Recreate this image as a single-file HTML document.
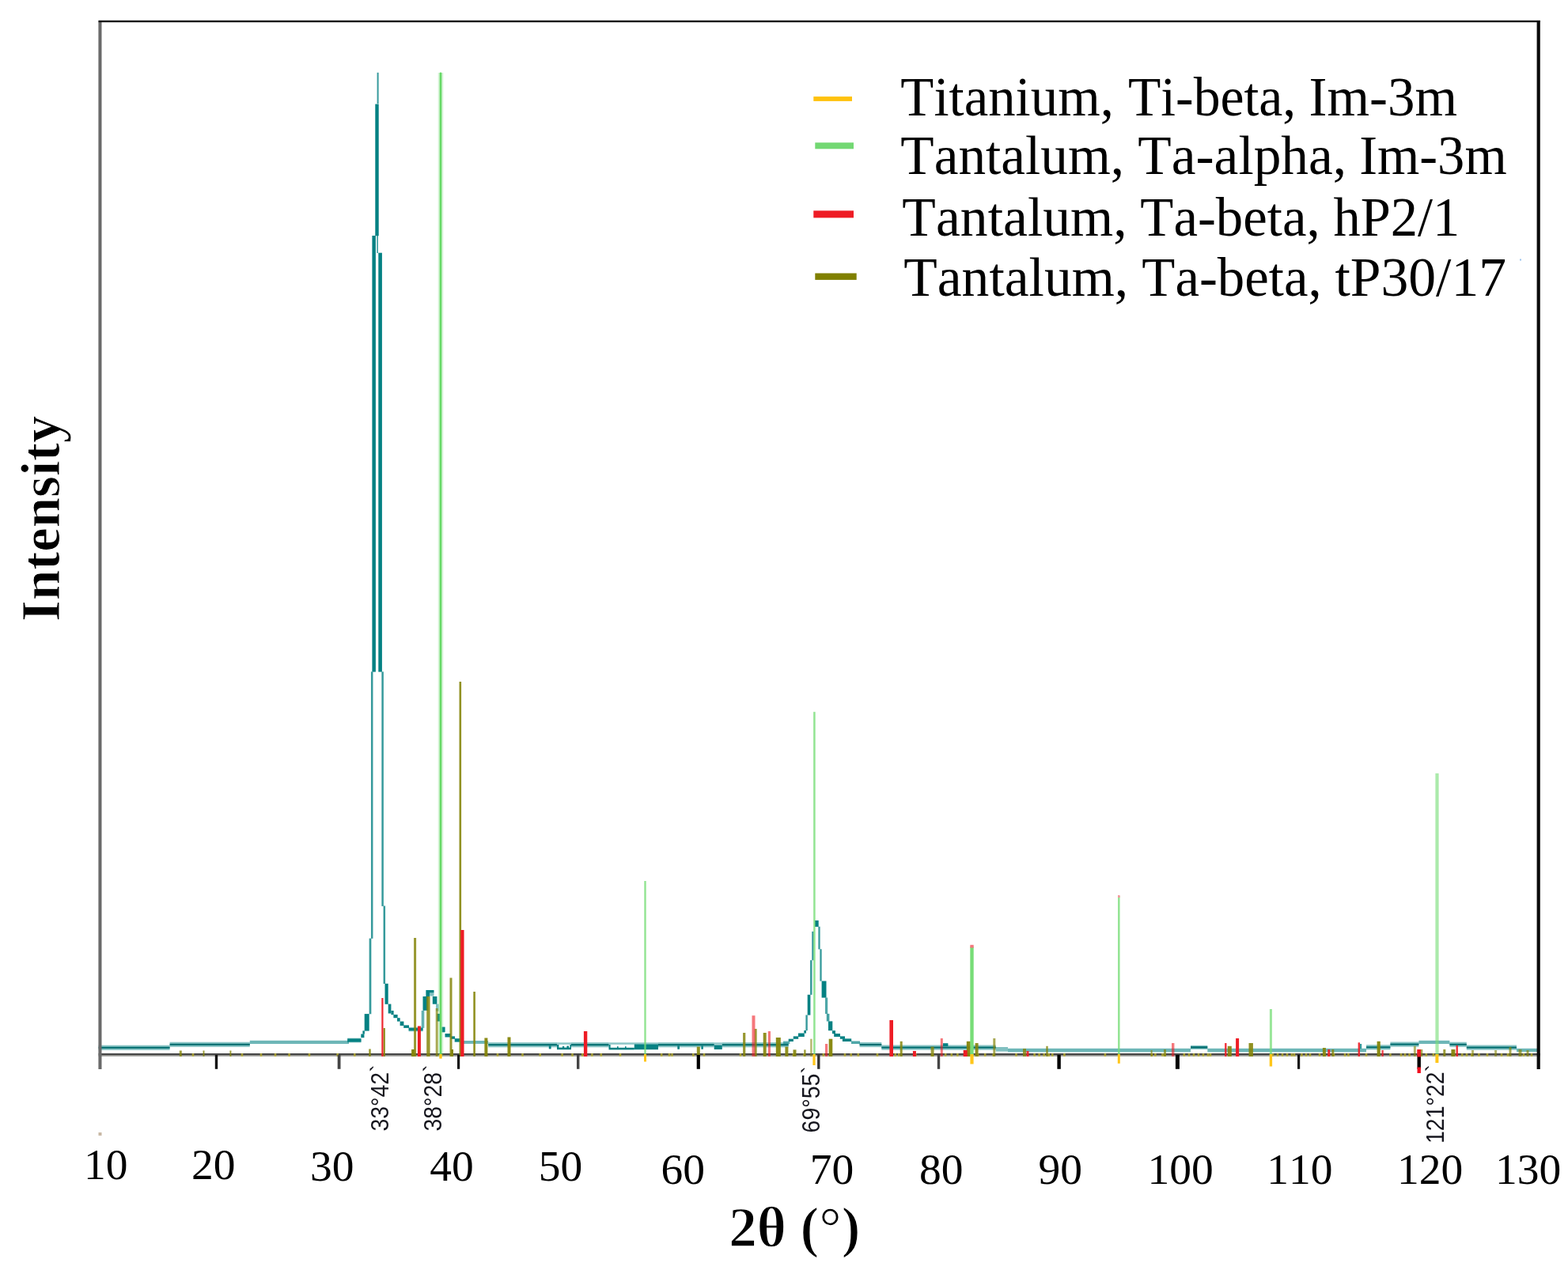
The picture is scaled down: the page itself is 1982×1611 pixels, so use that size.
<!DOCTYPE html>
<html lang="en">
<head>
<meta charset="utf-8">
<title>XRD pattern</title>
<style>
html,body{margin:0;padding:0;background:#fff;}
body{width:1982px;height:1611px;}
svg{display:block;}
</style>
</head>
<body>
<svg width="1982" height="1611" viewBox="0 0 1982 1611">
<rect x="0" y="0" width="1982" height="1611" fill="#ffffff"/>
<g id="curve">
<rect x="124.6" y="1321.70" width="90.0" height="6.20" fill="#048183" fill-opacity="0.47"/>
<rect x="124.6" y="1323.75" width="90.0" height="2.10" fill="#006d6f"/>
<rect x="214.6" y="1317.70" width="101.2" height="6.20" fill="#048183" fill-opacity="0.47"/>
<rect x="214.6" y="1319.75" width="101.2" height="2.10" fill="#006d6f"/>
<rect x="315.8" y="1315.8" width="125.2" height="4.2" fill="#048183" fill-opacity="0.58"/>
<rect x="439.2" y="1313.4" width="17.3" height="4.2" fill="#048183"/>
<rect x="439.2" y="1312.6" width="17.3" height="5.8" fill="#048183" fill-opacity="0.4"/>
<rect x="456.3" y="1307.5" width="4.1" height="4.7" fill="#048183"/>
<rect x="458.4" y="1303.4" width="2.5" height="4.2" fill="#048183"/>
<rect x="460.7" y="1282.1" width="6.0" height="21.5" fill="#048183"/>
<rect x="466.65" y="1186.6" width="2.70" height="95.7" fill="#048183" fill-opacity="0.8"/>
<rect x="468.95" y="849.4" width="2.50" height="337.4" fill="#048183" fill-opacity="0.8"/>
<rect x="470.4" y="298.0" width="4.5" height="551.6" fill="#048183"/>
<rect x="474.3" y="131.6" width="4.4" height="166.6" fill="#048183"/>
<rect x="476.60" y="91.8" width="2.00" height="39.4" fill="#048183" fill-opacity="0.8"/>
<rect x="476.30" y="297.0" width="1.60" height="23.0" fill="#048183" fill-opacity="0.8"/>
<rect x="478.3" y="319.7" width="4.6" height="529.9" fill="#048183"/>
<rect x="482.35" y="849.4" width="2.50" height="296.5" fill="#048183" fill-opacity="0.8"/>
<rect x="484.55" y="1145.5" width="2.50" height="98.5" fill="#048183" fill-opacity="0.8"/>
<rect x="486.5" y="1243.8" width="4.2" height="26.0" fill="#048183"/>
<rect x="490.7" y="1269.6" width="3.7" height="11.9" fill="#048183"/>
<rect x="494.4" y="1278.0" width="3.2" height="5.2" fill="#048183"/>
<rect x="497.4" y="1283.0" width="5.2" height="4.2" fill="#048183"/>
<rect x="502.0" y="1287.2" width="3.7" height="4.4" fill="#048183"/>
<rect x="505.6" y="1291.6" width="4.8" height="5.4" fill="#048183"/>
<rect x="510.2" y="1296.4" width="6.8" height="3.5" fill="#048183"/>
<rect x="516.6" y="1299.8" width="18.0" height="3.6" fill="#048183"/>
<rect x="516.6" y="1298.8" width="18.0" height="5.6" fill="#048183" fill-opacity="0.35"/>
<rect x="532.70" y="1278.0" width="3.60" height="21.9" fill="#048183" fill-opacity="0.62"/>
<rect x="534.5" y="1260.0" width="6.7" height="17.8" fill="#048183"/>
<rect x="538.4" y="1252.0" width="10.1" height="3.2" fill="#048183"/>
<rect x="538.4" y="1255.0" width="4.6" height="5.2" fill="#048183"/>
<rect x="543.0" y="1255.0" width="5.5" height="4.6" fill="#048183" fill-opacity="0.5"/>
<rect x="546.8" y="1260.0" width="5.6" height="9.7" fill="#048183"/>
<rect x="551.0" y="1269.6" width="3.6" height="9.0" fill="#048183" fill-opacity="0.5"/>
<rect x="552.4" y="1281.9" width="3.9" height="9.6" fill="#048183"/>
<rect x="558.5" y="1298.6" width="4.1" height="6.7" fill="#048183"/>
<rect x="562.5" y="1307.0" width="7.3" height="4.5" fill="#048183"/>
<rect x="569.6" y="1310.4" width="5.4" height="3.4" fill="#048183"/>
<rect x="574.7" y="1313.2" width="7.5" height="4.4" fill="#048183"/>
<rect x="582.0" y="1316.0" width="35.2" height="3.9" fill="#048183" fill-opacity="0.58"/>
<rect x="617.2" y="1318.10" width="86.8" height="6.20" fill="#048183" fill-opacity="0.47"/>
<rect x="617.2" y="1320.15" width="86.8" height="2.10" fill="#006d6f"/>
<rect x="722.0" y="1318.10" width="47.5" height="6.20" fill="#048183" fill-opacity="0.47"/>
<rect x="722.0" y="1320.15" width="47.5" height="2.10" fill="#006d6f"/>
<rect x="832.0" y="1318.10" width="70.7" height="6.20" fill="#048183" fill-opacity="0.47"/>
<rect x="832.0" y="1320.15" width="70.7" height="2.10" fill="#006d6f"/>
<rect x="912.8" y="1318.10" width="83.9" height="6.20" fill="#048183" fill-opacity="0.47"/>
<rect x="912.8" y="1320.15" width="83.9" height="2.10" fill="#006d6f"/>
<rect x="693.8" y="1322.4" width="2.8" height="4.0" fill="#048183"/>
<rect x="704.0" y="1318.3" width="18.0" height="2.5" fill="#048183" fill-opacity="0.45"/>
<rect x="704.0" y="1324.6" width="18.0" height="2.6" fill="#048183"/>
<rect x="704.0" y="1321.0" width="2.4" height="4.0" fill="#048183"/>
<rect x="711.0" y="1323.0" width="2.2" height="2.0" fill="#048183"/>
<rect x="716.4" y="1322.6" width="2.6" height="2.4" fill="#048183"/>
<rect x="720.4" y="1321.0" width="1.6" height="4.0" fill="#048183"/>
<rect x="769.5" y="1318.3" width="32.3" height="2.5" fill="#048183" fill-opacity="0.45"/>
<rect x="769.5" y="1324.8" width="32.3" height="2.6" fill="#048183"/>
<rect x="769.5" y="1321.0" width="2.1" height="4.0" fill="#048183"/>
<rect x="780.0" y="1323.2" width="1.6" height="1.8" fill="#048183"/>
<rect x="790.0" y="1323.2" width="1.6" height="1.8" fill="#048183"/>
<rect x="801.8" y="1318.3" width="30.2" height="2.3" fill="#048183" fill-opacity="0.45"/>
<rect x="801.8" y="1320.4" width="30.2" height="6.8" fill="#048183"/>
<rect x="856.3" y="1322.4" width="2.7" height="4.4" fill="#048183"/>
<rect x="886.4" y="1322.4" width="2.4" height="4.4" fill="#048183"/>
<rect x="902.7" y="1318.3" width="10.1" height="2.5" fill="#048183" fill-opacity="0.45"/>
<rect x="902.7" y="1321.4" width="10.1" height="5.6" fill="#048183"/>
<rect x="990.0" y="1316.5" width="8.4" height="3.5" fill="#048183" fill-opacity="0.6"/>
<rect x="996.7" y="1313.7" width="6.2" height="3.3" fill="#048183"/>
<rect x="1002.8" y="1310.4" width="6.4" height="3.4" fill="#048183"/>
<rect x="1009.0" y="1306.5" width="7.8" height="4.5" fill="#048183"/>
<rect x="1016.3" y="1303.0" width="2.7" height="3.6" fill="#048183"/>
<rect x="1018.40" y="1283.5" width="2.40" height="19.7" fill="#048183" fill-opacity="0.8"/>
<rect x="1020.7" y="1257.8" width="3.7" height="25.8" fill="#048183"/>
<rect x="1024.05" y="1214.2" width="2.50" height="43.7" fill="#048183" fill-opacity="0.8"/>
<rect x="1026.25" y="1177.9" width="2.30" height="36.4" fill="#048183" fill-opacity="0.8"/>
<rect x="1029.9" y="1163.9" width="4.8" height="8.0" fill="#048183"/>
<rect x="1034.35" y="1171.7" width="2.30" height="28.7" fill="#048183" fill-opacity="0.8"/>
<rect x="1036.35" y="1200.2" width="2.30" height="40.4" fill="#048183" fill-opacity="0.8"/>
<rect x="1038.6" y="1240.5" width="5.9" height="21.1" fill="#048183"/>
<rect x="1043.00" y="1261.5" width="3.20" height="20.5" fill="#048183" fill-opacity="0.7"/>
<rect x="1044.80" y="1281.9" width="3.60" height="9.6" fill="#048183" fill-opacity="0.75"/>
<rect x="1047.0" y="1291.4" width="5.3" height="11.8" fill="#048183"/>
<rect x="1052.0" y="1303.2" width="4.0" height="4.0" fill="#048183"/>
<rect x="1054.2" y="1307.0" width="7.8" height="4.0" fill="#048183"/>
<rect x="1061.8" y="1310.4" width="6.2" height="3.4" fill="#048183"/>
<rect x="1064.9" y="1313.4" width="11.3" height="3.6" fill="#048183"/>
<rect x="1076.0" y="1316.5" width="11.0" height="3.5" fill="#048183" fill-opacity="0.7"/>
<rect x="1086.6" y="1317.90" width="27.7" height="6.20" fill="#048183" fill-opacity="0.47"/>
<rect x="1086.6" y="1319.95" width="27.7" height="2.10" fill="#006d6f"/>
<rect x="1114.3" y="1321.50" width="144.5" height="6.20" fill="#048183" fill-opacity="0.47"/>
<rect x="1114.3" y="1323.55" width="144.5" height="2.10" fill="#006d6f"/>
<rect x="1192.0" y="1319.2" width="6.4" height="3.8" fill="#048183"/>
<rect x="1258.8" y="1324.0" width="15.2" height="5.6" fill="#048183" fill-opacity="0.5"/>
<rect x="1274.0" y="1325.8" width="231.0" height="4.6" fill="#048183" fill-opacity="0.58"/>
<rect x="1505.0" y="1321.90" width="21.3" height="5.00" fill="#048183" fill-opacity="0.47"/>
<rect x="1505.0" y="1323.20" width="21.3" height="2.40" fill="#006d6f"/>
<rect x="1526.3" y="1325.8" width="200.7" height="4.6" fill="#048183" fill-opacity="0.58"/>
<rect x="1719.0" y="1320.0" width="2.2" height="6.0" fill="#048183" fill-opacity="0.8"/>
<rect x="1727.0" y="1321.20" width="30.4" height="6.20" fill="#048183" fill-opacity="0.47"/>
<rect x="1727.0" y="1323.25" width="30.4" height="2.10" fill="#006d6f"/>
<rect x="1757.4" y="1317.50" width="36.0" height="6.20" fill="#048183" fill-opacity="0.47"/>
<rect x="1757.4" y="1319.55" width="36.0" height="2.10" fill="#006d6f"/>
<rect x="1793.4" y="1315.8" width="39.0" height="4.2" fill="#048183" fill-opacity="0.58"/>
<rect x="1832.4" y="1317.70" width="21.4" height="6.20" fill="#048183" fill-opacity="0.47"/>
<rect x="1832.4" y="1319.75" width="21.4" height="2.10" fill="#006d6f"/>
<rect x="1853.8" y="1321.50" width="63.2" height="6.20" fill="#048183" fill-opacity="0.47"/>
<rect x="1853.8" y="1323.55" width="63.2" height="2.10" fill="#006d6f"/>
<rect x="1917.0" y="1325.8" width="28.0" height="4.2" fill="#048183" fill-opacity="0.58"/>
</g>
<rect x="124.6" y="1332.0" width="1822.2" height="2.2" fill="#454545"/>
<rect x="124.6" y="1334.1" width="1822.2" height="1.6" fill="#8a8a86"/>
<rect x="364.30" y="1332.00" width="2.60" height="4.00" fill="#b7ac2e" fill-opacity="0.8"/>
<rect x="389.70" y="1332.00" width="2.60" height="4.00" fill="#b7ac2e" fill-opacity="0.8"/>
<rect x="425.40" y="1332.00" width="2.60" height="4.00" fill="#b7ac2e" fill-opacity="0.8"/>
<rect x="447.00" y="1332.00" width="2.60" height="4.00" fill="#b7ac2e" fill-opacity="0.8"/>
<rect x="709.30" y="1332.00" width="2.60" height="4.00" fill="#b7ac2e" fill-opacity="0.8"/>
<rect x="722.20" y="1332.00" width="2.60" height="4.00" fill="#b7ac2e" fill-opacity="0.8"/>
<rect x="735.00" y="1332.00" width="2.60" height="4.00" fill="#b7ac2e" fill-opacity="0.8"/>
<rect x="747.10" y="1332.00" width="2.60" height="4.00" fill="#b7ac2e" fill-opacity="0.8"/>
<rect x="758.50" y="1332.00" width="2.60" height="4.00" fill="#b7ac2e" fill-opacity="0.8"/>
<rect x="782.70" y="1332.00" width="2.60" height="4.00" fill="#b7ac2e" fill-opacity="0.8"/>
<rect x="834.90" y="1332.00" width="2.60" height="4.00" fill="#b7ac2e" fill-opacity="0.8"/>
<rect x="844.70" y="1332.00" width="2.60" height="4.00" fill="#b7ac2e" fill-opacity="0.8"/>
<rect x="848.20" y="1332.00" width="2.60" height="4.00" fill="#b7ac2e" fill-opacity="0.8"/>
<rect x="875.00" y="1332.00" width="2.60" height="4.00" fill="#b7ac2e" fill-opacity="0.8"/>
<rect x="888.70" y="1332.00" width="2.60" height="4.00" fill="#b7ac2e" fill-opacity="0.8"/>
<rect x="934.70" y="1332.00" width="2.60" height="4.00" fill="#b7ac2e" fill-opacity="0.8"/>
<rect x="1001.70" y="1332.00" width="2.60" height="4.00" fill="#b7ac2e" fill-opacity="0.8"/>
<rect x="1015.30" y="1332.00" width="2.60" height="4.00" fill="#b7ac2e" fill-opacity="0.8"/>
<rect x="1039.60" y="1332.00" width="2.60" height="4.00" fill="#b7ac2e" fill-opacity="0.8"/>
<rect x="1048.70" y="1332.00" width="2.60" height="4.00" fill="#b7ac2e" fill-opacity="0.8"/>
<rect x="1066.70" y="1332.00" width="2.60" height="4.00" fill="#b7ac2e" fill-opacity="0.8"/>
<rect x="1074.40" y="1332.00" width="2.60" height="4.00" fill="#b7ac2e" fill-opacity="0.8"/>
<rect x="1083.50" y="1332.00" width="2.60" height="4.00" fill="#b7ac2e" fill-opacity="0.8"/>
<rect x="1107.70" y="1332.00" width="2.60" height="4.00" fill="#b7ac2e" fill-opacity="0.8"/>
<rect x="1130.40" y="1332.00" width="2.60" height="4.00" fill="#b7ac2e" fill-opacity="0.8"/>
<rect x="1134.90" y="1332.00" width="2.60" height="4.00" fill="#b7ac2e" fill-opacity="0.8"/>
<rect x="1156.10" y="1332.00" width="2.60" height="4.00" fill="#b7ac2e" fill-opacity="0.8"/>
<rect x="1177.30" y="1332.00" width="2.60" height="4.00" fill="#b7ac2e" fill-opacity="0.8"/>
<rect x="1193.90" y="1332.00" width="2.60" height="4.00" fill="#b7ac2e" fill-opacity="0.8"/>
<rect x="1201.50" y="1332.00" width="2.60" height="4.00" fill="#b7ac2e" fill-opacity="0.8"/>
<rect x="1209.10" y="1332.00" width="2.60" height="4.00" fill="#b7ac2e" fill-opacity="0.8"/>
<rect x="1234.80" y="1332.00" width="2.60" height="4.00" fill="#b7ac2e" fill-opacity="0.8"/>
<rect x="1243.90" y="1332.00" width="2.60" height="4.00" fill="#b7ac2e" fill-opacity="0.8"/>
<rect x="1254.50" y="1332.00" width="2.60" height="4.00" fill="#b7ac2e" fill-opacity="0.8"/>
<rect x="1283.20" y="1332.00" width="2.60" height="4.00" fill="#b7ac2e" fill-opacity="0.8"/>
<rect x="1306.30" y="1332.00" width="2.60" height="4.00" fill="#b7ac2e" fill-opacity="0.8"/>
<rect x="1312.30" y="1332.00" width="2.60" height="4.00" fill="#b7ac2e" fill-opacity="0.8"/>
<rect x="1318.40" y="1332.00" width="2.60" height="4.00" fill="#b7ac2e" fill-opacity="0.8"/>
<rect x="1324.40" y="1332.00" width="2.60" height="4.00" fill="#b7ac2e" fill-opacity="0.8"/>
<rect x="1329.00" y="1332.00" width="2.60" height="4.00" fill="#b7ac2e" fill-opacity="0.8"/>
<rect x="1344.10" y="1332.00" width="2.60" height="4.00" fill="#b7ac2e" fill-opacity="0.8"/>
<rect x="1395.60" y="1332.00" width="2.60" height="4.00" fill="#b7ac2e" fill-opacity="0.8"/>
<rect x="1454.60" y="1332.00" width="2.60" height="4.00" fill="#b7ac2e" fill-opacity="0.8"/>
<rect x="1459.10" y="1332.00" width="2.60" height="4.00" fill="#b7ac2e" fill-opacity="0.8"/>
<rect x="1468.20" y="1332.00" width="2.60" height="4.00" fill="#b7ac2e" fill-opacity="0.8"/>
<rect x="1471.20" y="1332.00" width="2.60" height="4.00" fill="#b7ac2e" fill-opacity="0.8"/>
<rect x="1495.50" y="1332.00" width="2.60" height="4.00" fill="#b7ac2e" fill-opacity="0.8"/>
<rect x="1501.70" y="1332.00" width="2.60" height="4.00" fill="#b7ac2e" fill-opacity="0.8"/>
<rect x="1507.70" y="1332.00" width="2.60" height="4.00" fill="#b7ac2e" fill-opacity="0.8"/>
<rect x="1513.70" y="1332.00" width="2.60" height="4.00" fill="#b7ac2e" fill-opacity="0.8"/>
<rect x="1519.70" y="1332.00" width="2.60" height="4.00" fill="#b7ac2e" fill-opacity="0.8"/>
<rect x="1525.70" y="1332.00" width="2.60" height="4.00" fill="#b7ac2e" fill-opacity="0.8"/>
<rect x="1528.70" y="1332.00" width="2.60" height="4.00" fill="#b7ac2e" fill-opacity="0.8"/>
<rect x="1607.70" y="1332.00" width="2.60" height="4.00" fill="#b7ac2e" fill-opacity="0.8"/>
<rect x="1613.70" y="1332.00" width="2.60" height="4.00" fill="#b7ac2e" fill-opacity="0.8"/>
<rect x="1619.70" y="1332.00" width="2.60" height="4.00" fill="#b7ac2e" fill-opacity="0.8"/>
<rect x="1625.70" y="1332.00" width="2.60" height="4.00" fill="#b7ac2e" fill-opacity="0.8"/>
<rect x="1631.70" y="1332.00" width="2.60" height="4.00" fill="#b7ac2e" fill-opacity="0.8"/>
<rect x="1634.70" y="1332.00" width="2.60" height="4.00" fill="#b7ac2e" fill-opacity="0.8"/>
<rect x="1644.10" y="1332.00" width="2.60" height="4.00" fill="#b7ac2e" fill-opacity="0.8"/>
<rect x="1649.70" y="1332.00" width="2.60" height="4.00" fill="#b7ac2e" fill-opacity="0.8"/>
<rect x="1654.70" y="1332.00" width="2.60" height="4.00" fill="#b7ac2e" fill-opacity="0.8"/>
<rect x="1666.70" y="1332.00" width="2.60" height="4.00" fill="#b7ac2e" fill-opacity="0.8"/>
<rect x="1672.70" y="1332.00" width="2.60" height="4.00" fill="#b7ac2e" fill-opacity="0.8"/>
<rect x="1678.70" y="1332.00" width="2.60" height="4.00" fill="#b7ac2e" fill-opacity="0.8"/>
<rect x="1684.70" y="1332.00" width="2.60" height="4.00" fill="#b7ac2e" fill-opacity="0.8"/>
<rect x="1698.70" y="1332.00" width="2.60" height="4.00" fill="#b7ac2e" fill-opacity="0.8"/>
<rect x="1703.10" y="1332.00" width="2.60" height="4.00" fill="#b7ac2e" fill-opacity="0.8"/>
<rect x="1725.70" y="1332.00" width="2.60" height="4.00" fill="#b7ac2e" fill-opacity="0.8"/>
<rect x="1756.10" y="1332.00" width="2.60" height="4.00" fill="#b7ac2e" fill-opacity="0.8"/>
<rect x="1769.70" y="1332.00" width="2.60" height="4.00" fill="#b7ac2e" fill-opacity="0.8"/>
<rect x="1774.70" y="1332.00" width="2.60" height="4.00" fill="#b7ac2e" fill-opacity="0.8"/>
<rect x="1780.30" y="1332.00" width="2.60" height="4.00" fill="#b7ac2e" fill-opacity="0.8"/>
<rect x="1801.50" y="1332.00" width="2.60" height="4.00" fill="#b7ac2e" fill-opacity="0.8"/>
<rect x="1810.60" y="1332.00" width="2.60" height="4.00" fill="#b7ac2e" fill-opacity="0.8"/>
<rect x="1846.90" y="1332.00" width="2.60" height="4.00" fill="#b7ac2e" fill-opacity="0.8"/>
<rect x="1852.70" y="1332.00" width="2.60" height="4.00" fill="#b7ac2e" fill-opacity="0.8"/>
<rect x="1859.00" y="1332.00" width="2.60" height="4.00" fill="#b7ac2e" fill-opacity="0.8"/>
<rect x="1868.10" y="1332.00" width="2.60" height="4.00" fill="#b7ac2e" fill-opacity="0.8"/>
<rect x="242.70" y="1332.00" width="2.60" height="4.00" fill="#b7ac2e" fill-opacity="0.8"/>
<rect x="304.70" y="1332.00" width="2.60" height="4.00" fill="#b7ac2e" fill-opacity="0.8"/>
<rect x="328.70" y="1332.00" width="2.60" height="4.00" fill="#b7ac2e" fill-opacity="0.8"/>
<rect x="346.70" y="1332.00" width="2.60" height="4.00" fill="#b7ac2e" fill-opacity="0.8"/>
<rect x="627.70" y="1332.00" width="2.60" height="4.00" fill="#b7ac2e" fill-opacity="0.8"/>
<rect x="659.20" y="1332.00" width="2.60" height="4.00" fill="#b7ac2e" fill-opacity="0.8"/>
<rect x="681.40" y="1332.00" width="2.60" height="4.00" fill="#b7ac2e" fill-opacity="0.8"/>
<rect x="1878.70" y="1332.00" width="2.60" height="4.00" fill="#b7ac2e" fill-opacity="0.8"/>
<rect x="1896.70" y="1332.00" width="2.60" height="4.00" fill="#b7ac2e" fill-opacity="0.8"/>
<rect x="1904.70" y="1332.00" width="2.60" height="4.00" fill="#b7ac2e" fill-opacity="0.8"/>
<rect x="1924.70" y="1332.00" width="2.60" height="4.00" fill="#b7ac2e" fill-opacity="0.8"/>
<rect x="1934.70" y="1332.00" width="2.60" height="4.00" fill="#b7ac2e" fill-opacity="0.8"/>
<g id="sticks">
<rect x="226.80" y="1328.50" width="3.00" height="7.50" fill="#85850a" fill-opacity="0.8"/>
<rect x="256.50" y="1328.50" width="2.00" height="7.50" fill="#85850a" fill-opacity="0.8"/>
<rect x="290.40" y="1328.50" width="2.00" height="7.50" fill="#85850a" fill-opacity="0.8"/>
<rect x="466.25" y="1326.50" width="2.50" height="9.50" fill="#85850a" fill-opacity="0.85"/>
<rect x="484.60" y="1300.00" width="2.20" height="36.00" fill="#85850a" fill-opacity="0.95"/>
<rect x="520.10" y="1327.00" width="4.00" height="9.00" fill="#85850a"/>
<rect x="523.10" y="1186.00" width="3.00" height="150.00" fill="#85850a" fill-opacity="0.85"/>
<rect x="539.20" y="1260.00" width="4.40" height="76.00" fill="#85850a" fill-opacity="0.85"/>
<rect x="550.70" y="1275.00" width="3.00" height="61.00" fill="#85850a" fill-opacity="0.7"/>
<rect x="568.50" y="1236.50" width="3.00" height="99.50" fill="#85850a" fill-opacity="0.85"/>
<rect x="570.00" y="1327.00" width="3.00" height="9.00" fill="#85850a"/>
<rect x="580.50" y="862.00" width="2.60" height="474.00" fill="#85850a" fill-opacity="0.9"/>
<rect x="598.30" y="1254.00" width="2.60" height="82.00" fill="#85850a" fill-opacity="0.9"/>
<rect x="612.40" y="1312.50" width="4.00" height="23.50" fill="#85850a" fill-opacity="0.95"/>
<rect x="641.50" y="1311.50" width="4.00" height="24.50" fill="#85850a" fill-opacity="0.95"/>
<rect x="880.80" y="1323.60" width="4.00" height="12.40" fill="#85850a" fill-opacity="0.9"/>
<rect x="939.10" y="1306.00" width="3.20" height="30.00" fill="#85850a" fill-opacity="0.85"/>
<rect x="953.70" y="1301.00" width="3.00" height="35.00" fill="#85850a" fill-opacity="0.8"/>
<rect x="964.70" y="1306.00" width="4.00" height="30.00" fill="#85850a" fill-opacity="0.9"/>
<rect x="980.80" y="1312.00" width="6.00" height="24.00" fill="#85850a" fill-opacity="0.95"/>
<rect x="992.40" y="1323.60" width="4.00" height="12.40" fill="#85850a" fill-opacity="0.9"/>
<rect x="1002.50" y="1327.40" width="4.00" height="8.60" fill="#85850a" fill-opacity="0.9"/>
<rect x="1016.20" y="1327.40" width="2.40" height="8.60" fill="#85850a" fill-opacity="0.8"/>
<rect x="1024.20" y="1313.70" width="2.40" height="22.30" fill="#85850a" fill-opacity="0.6"/>
<rect x="1047.70" y="1313.70" width="4.60" height="22.30" fill="#85850a" fill-opacity="0.95"/>
<rect x="1137.70" y="1316.80" width="3.00" height="19.20" fill="#85850a" fill-opacity="0.85"/>
<rect x="1176.60" y="1323.60" width="4.00" height="12.40" fill="#85850a" fill-opacity="0.8"/>
<rect x="1221.80" y="1316.80" width="5.00" height="19.20" fill="#85850a" fill-opacity="0.95"/>
<rect x="1232.60" y="1319.00" width="4.00" height="17.00" fill="#85850a" fill-opacity="0.9"/>
<rect x="1255.30" y="1313.00" width="3.00" height="23.00" fill="#85850a" fill-opacity="0.7"/>
<rect x="1293.00" y="1326.00" width="4.00" height="10.00" fill="#85850a" fill-opacity="0.8"/>
<rect x="1322.30" y="1322.80" width="2.40" height="13.20" fill="#85850a" fill-opacity="0.8"/>
<rect x="1454.60" y="1328.00" width="2.00" height="8.00" fill="#85850a" fill-opacity="0.7"/>
<rect x="1471.00" y="1327.00" width="3.00" height="9.00" fill="#85850a" fill-opacity="0.7"/>
<rect x="1551.80" y="1322.80" width="5.00" height="13.20" fill="#85850a" fill-opacity="0.9"/>
<rect x="1578.50" y="1319.00" width="5.40" height="17.00" fill="#85850a" fill-opacity="0.9"/>
<rect x="1671.90" y="1325.00" width="4.00" height="11.00" fill="#85850a" fill-opacity="0.9"/>
<rect x="1683.30" y="1327.00" width="3.00" height="9.00" fill="#85850a" fill-opacity="0.8"/>
<rect x="1740.60" y="1316.80" width="4.20" height="19.20" fill="#85850a" fill-opacity="0.95"/>
<rect x="1786.90" y="1322.80" width="3.00" height="13.20" fill="#85850a" fill-opacity="0.6"/>
<rect x="1795.30" y="1327.00" width="3.00" height="9.00" fill="#85850a" fill-opacity="0.7"/>
<rect x="1824.30" y="1327.00" width="3.00" height="9.00" fill="#85850a" fill-opacity="0.8"/>
<rect x="1834.40" y="1327.00" width="5.00" height="9.00" fill="#85850a" fill-opacity="0.95"/>
<rect x="1860.00" y="1328.00" width="3.00" height="8.00" fill="#85850a" fill-opacity="0.6"/>
<rect x="1889.10" y="1328.00" width="3.00" height="8.00" fill="#85850a" fill-opacity="0.6"/>
<rect x="1907.50" y="1324.00" width="3.00" height="12.00" fill="#85850a" fill-opacity="0.7"/>
<rect x="1919.50" y="1327.00" width="4.00" height="9.00" fill="#85850a" fill-opacity="0.7"/>
<rect x="1929.50" y="1328.00" width="3.00" height="8.00" fill="#85850a" fill-opacity="0.7"/>
<rect x="482.30" y="1262.00" width="2.20" height="74.00" fill="#ee1c25" fill-opacity="0.95"/>
<rect x="527.90" y="1297.50" width="4.00" height="38.50" fill="#ee1c25"/>
<rect x="582.25" y="1176.00" width="4.30" height="160.00" fill="#ee1c25"/>
<rect x="737.90" y="1304.00" width="4.40" height="32.00" fill="#ee1c25"/>
<rect x="950.50" y="1284.20" width="4.00" height="51.80" fill="#ee1c25" fill-opacity="0.6"/>
<rect x="970.80" y="1304.00" width="3.20" height="32.00" fill="#ee1c25" fill-opacity="0.6"/>
<rect x="1043.00" y="1320.00" width="3.20" height="16.00" fill="#ee1c25" fill-opacity="0.6"/>
<rect x="1124.40" y="1290.00" width="4.60" height="46.00" fill="#ee1c25"/>
<rect x="1153.90" y="1329.00" width="4.00" height="7.00" fill="#ee1c25"/>
<rect x="1188.80" y="1313.00" width="3.00" height="23.00" fill="#ee1c25" fill-opacity="0.6"/>
<rect x="1217.70" y="1328.00" width="5.00" height="8.00" fill="#ee1c25"/>
<rect x="1297.50" y="1329.00" width="3.00" height="7.00" fill="#ee1c25" fill-opacity="0.9"/>
<rect x="1481.00" y="1319.00" width="3.40" height="17.00" fill="#ee1c25" fill-opacity="0.6"/>
<rect x="1548.10" y="1319.00" width="2.40" height="17.00" fill="#ee1c25" fill-opacity="0.9"/>
<rect x="1562.10" y="1313.00" width="4.00" height="23.00" fill="#ee1c25"/>
<rect x="1678.30" y="1327.00" width="3.00" height="9.00" fill="#ee1c25" fill-opacity="0.9"/>
<rect x="1716.60" y="1318.30" width="2.40" height="17.70" fill="#ee1c25" fill-opacity="0.9"/>
<rect x="1746.40" y="1328.00" width="2.40" height="8.00" fill="#ee1c25" fill-opacity="0.8"/>
<rect x="1791.45" y="1327.00" width="4.50" height="9.00" fill="#ee1c25"/>
<rect x="1840.50" y="1322.00" width="2.40" height="14.00" fill="#ee1c25" fill-opacity="0.9"/>
<rect x="814.30" y="1114.00" width="2.40" height="222.00" fill="#77dd77" fill-opacity="0.8"/>
<rect x="1028.15" y="900.20" width="2.50" height="435.80" fill="#77dd77" fill-opacity="0.8"/>
<rect x="1226.30" y="1197.00" width="4.40" height="139.00" fill="#77dd77"/>
<rect x="1413.05" y="1133.00" width="2.50" height="203.00" fill="#77dd77" fill-opacity="0.8"/>
<rect x="1604.90" y="1276.00" width="3.00" height="60.00" fill="#77dd77" fill-opacity="0.75"/>
<rect x="1814.40" y="977.90" width="4.20" height="358.10" fill="#77dd77" fill-opacity="0.62"/>
<rect x="553.50" y="92.00" width="7.00" height="1244.00" fill="#6bdb6b" fill-opacity="0.16"/>
<rect x="554.70" y="92.00" width="4.60" height="1244.00" fill="#6bdb6b" fill-opacity="0.38"/>
<rect x="555.95" y="91.60" width="2.10" height="1244.40" fill="#66d966"/>
<rect x="1226.30" y="1194.80" width="4.40" height="3.70" fill="#f4777d"/>
<rect x="1413.00" y="1132.00" width="2.60" height="3.00" fill="#f4999d"/>
</g>
<rect x="555.30" y="1333.00" width="3.40" height="5.60" fill="#ffc61a"/>
<rect x="814.00" y="1333.00" width="3.00" height="9.50" fill="#ffc61a"/>
<rect x="1027.40" y="1333.00" width="3.20" height="14.00" fill="#ffc61a"/>
<rect x="1226.40" y="1333.00" width="4.20" height="12.50" fill="#ffc61a"/>
<rect x="1412.80" y="1333.00" width="3.00" height="11.80" fill="#ffc61a"/>
<rect x="1604.70" y="1333.00" width="3.40" height="15.50" fill="#ffc61a"/>
<rect x="1814.40" y="1333.00" width="4.00" height="11.00" fill="#ffc61a"/>
<rect x="271.80" y="1334.00" width="3.40" height="17.80" fill="#111"/>
<rect x="426.70" y="1334.00" width="3.80" height="17.80" fill="#444"/>
<rect x="578.00" y="1334.00" width="3.20" height="17.80" fill="#111"/>
<rect x="729.00" y="1334.00" width="3.40" height="17.80" fill="#444"/>
<rect x="880.70" y="1334.00" width="4.20" height="17.80" fill="#000"/>
<rect x="1033.10" y="1334.00" width="3.40" height="17.80" fill="#333"/>
<rect x="1184.80" y="1334.00" width="3.40" height="17.80" fill="#444"/>
<rect x="1336.40" y="1334.00" width="4.40" height="17.80" fill="#000"/>
<rect x="1485.90" y="1334.00" width="5.00" height="17.80" fill="#000"/>
<rect x="1640.00" y="1334.00" width="3.20" height="17.80" fill="#111"/>
<rect x="1791.50" y="1334.00" width="4.40" height="17.80" fill="#000"/>
<rect x="1791.50" y="1349.50" width="4.40" height="7.50" fill="#f01020"/>
<rect x="1791.50" y="1327.00" width="4.40" height="9.50" fill="#ee1c25"/>
<rect x="124.4" y="26" width="4.1" height="1326" fill="#6a6a6a"/>
<rect x="124.6" y="25.8" width="1822.2" height="2.4" fill="#141414"/>
<rect x="1942.6" y="26" width="4.2" height="1326" fill="#0a0a0a"/>
<rect x="124.5" y="1432" width="4" height="4" fill="#c8b8a4"/>
<rect x="1921" y="327.5" width="2" height="2" fill="#9cc4ee"/>
<rect x="1028.30" y="122.10" width="48.70" height="5.80" fill="#ffc20e"/>
<rect x="1030.30" y="180.30" width="48.70" height="8.00" fill="#72d872"/>
<rect x="1028.30" y="266.40" width="50.70" height="9.00" fill="#ee1c25"/>
<rect x="1030.30" y="345.50" width="52.40" height="8.40" fill="#808000"/>
<g id="labels">
<text y="145.5" xml:space="preserve" style="font-family:'Liberation Serif',serif;font-size:69.5px;font-kerning:none" fill="#000"><tspan x="1138.36" textLength="269.52" lengthAdjust="spacingAndGlyphs">Titanium,</tspan> <tspan x="1425.98" textLength="212.31" lengthAdjust="spacingAndGlyphs">Ti-beta,</tspan> <tspan x="1654.55" textLength="187.57" lengthAdjust="spacingAndGlyphs">Im-3m</tspan></text>
<text y="220.0" xml:space="preserve" style="font-family:'Liberation Serif',serif;font-size:69.5px;font-kerning:none" fill="#000"><tspan x="1138.35" textLength="282.78" lengthAdjust="spacingAndGlyphs">Tantalum,</tspan> <tspan x="1438.35" textLength="263.82" lengthAdjust="spacingAndGlyphs">Ta-alpha,</tspan> <tspan x="1718.16" textLength="186.55" lengthAdjust="spacingAndGlyphs">Im-3m</tspan></text>
<text y="297.6" xml:space="preserve" style="font-family:'Liberation Serif',serif;font-size:69.5px;font-kerning:none" fill="#000"><tspan x="1140.35" textLength="284.31" lengthAdjust="spacingAndGlyphs">Tantalum,</tspan> <tspan x="1441.36" textLength="227.32" lengthAdjust="spacingAndGlyphs">Ta-beta,</tspan> <tspan x="1685.49" textLength="159.79" lengthAdjust="spacingAndGlyphs">hP2/1</tspan></text>
<text y="373.6" xml:space="preserve" style="font-family:'Liberation Serif',serif;font-size:69.5px;font-kerning:none" fill="#000"><tspan x="1142.25" textLength="283.90" lengthAdjust="spacingAndGlyphs">Tantalum,</tspan> <tspan x="1443.36" textLength="227.32" lengthAdjust="spacingAndGlyphs">Ta-beta,</tspan> <tspan x="1687.47" textLength="216.61" lengthAdjust="spacingAndGlyphs">tP30/17</tspan></text>
<text x="105.88" y="1490.9" style="font-family:'Liberation Serif',serif;font-size:55.5px;font-weight:normal;font-kerning:none" fill="#000">10</text>
<text x="241.97" y="1490.9" style="font-family:'Liberation Serif',serif;font-size:55.5px;font-weight:normal;font-kerning:none" fill="#000">20</text>
<text x="392.12" y="1492.8" style="font-family:'Liberation Serif',serif;font-size:55.5px;font-weight:normal;font-kerning:none" fill="#000">30</text>
<text x="543.17" y="1492.8" style="font-family:'Liberation Serif',serif;font-size:55.5px;font-weight:normal;font-kerning:none" fill="#000">40</text>
<text x="680.67" y="1492.8" style="font-family:'Liberation Serif',serif;font-size:55.5px;font-weight:normal;font-kerning:none" fill="#000">50</text>
<text x="835.47" y="1496.6" style="font-family:'Liberation Serif',serif;font-size:55.5px;font-weight:normal;font-kerning:none" fill="#000">60</text>
<text x="1023.64" y="1496.6" style="font-family:'Liberation Serif',serif;font-size:55.5px;font-weight:normal;font-kerning:none" fill="#000">70</text>
<text x="1162.02" y="1496.6" style="font-family:'Liberation Serif',serif;font-size:55.5px;font-weight:normal;font-kerning:none" fill="#000">80</text>
<text x="1312.61" y="1496.6" style="font-family:'Liberation Serif',serif;font-size:55.5px;font-weight:normal;font-kerning:none" fill="#000">90</text>
<text x="1450.45" y="1496.8" style="font-family:'Liberation Serif',serif;font-size:55.5px;font-weight:normal;font-kerning:none" fill="#000">100</text>
<text x="1601.35" y="1496.8" style="font-family:'Liberation Serif',serif;font-size:55.5px;font-weight:normal;font-kerning:none" fill="#000">110</text>
<text x="1765.90" y="1496.8" style="font-family:'Liberation Serif',serif;font-size:55.5px;font-weight:normal;font-kerning:none" fill="#000">120</text>
<text x="1889.90" y="1496.8" style="font-family:'Liberation Serif',serif;font-size:55.5px;font-weight:normal;font-kerning:none" fill="#000">130</text>
<text x="921.17" y="1576.0" textLength="166.18" lengthAdjust="spacingAndGlyphs" style="font-family:'Liberation Serif',serif;font-size:71.6px;font-weight:bold;font-kerning:none" fill="#000" stroke="#fff" stroke-width="1.3">2θ (°)</text>
<text transform="translate(74.8,785.91) rotate(-90)" textLength="260.42" lengthAdjust="spacingAndGlyphs" style="font-family:'Liberation Serif',serif;font-size:70.5px;font-weight:bold;font-kerning:none" fill="#000" stroke="#fff" stroke-width="1.0">Intensity</text>
</g>
<g id="peaklabels">
<text transform="translate(490.6,1430.6) rotate(-90) scale(1,1.1)" style="font-family:'Liberation Sans',sans-serif;font-size:28.5px" fill="#15151d">33°42`</text>
<text transform="translate(558.2,1430.6) rotate(-90) scale(1,1.1)" style="font-family:'Liberation Sans',sans-serif;font-size:28.5px" fill="#15151d">38°28`</text>
<text transform="translate(1036.4,1432.4) rotate(-90) scale(1,1.1)" style="font-family:'Liberation Sans',sans-serif;font-size:28.5px" fill="#15151d">69°55`</text>
<text transform="translate(1825.2,1446.0) rotate(-90) scale(1,1.1)" style="font-family:'Liberation Sans',sans-serif;font-size:28.5px" fill="#15151d">121°22`</text>
</g>
</svg>
</body>
</html>
